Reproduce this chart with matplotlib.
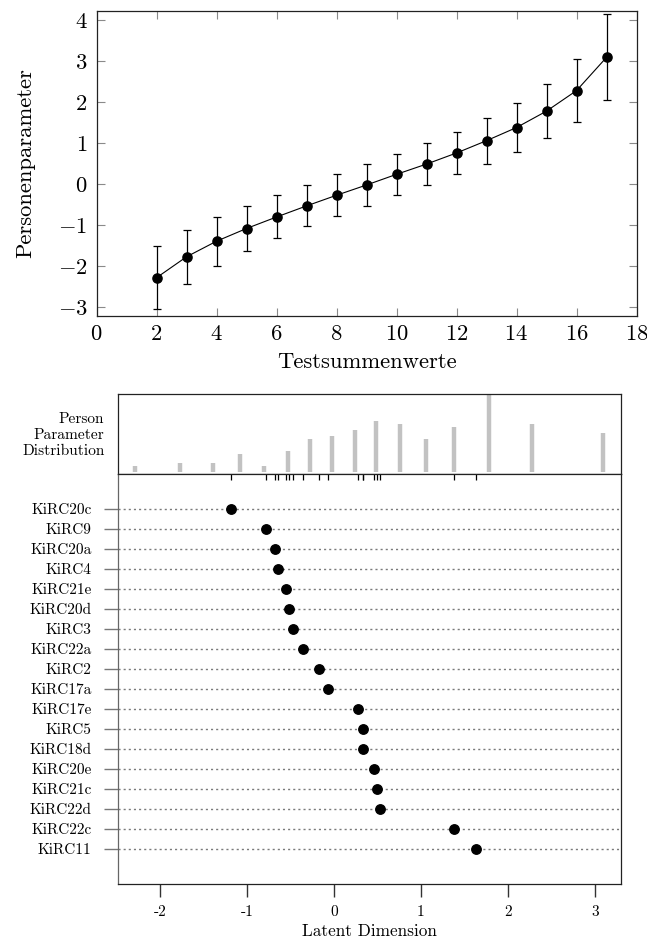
import matplotlib
matplotlib.use('Agg')
import matplotlib.pyplot as plt
import matplotlib.transforms as mtransforms
from matplotlib.ticker import FuncFormatter
import numpy as np

plt.rcParams['font.family'] = ['cmr10', 'DejaVu Serif']
plt.rcParams['mathtext.fontset'] = 'cm'
plt.rcParams['axes.unicode_minus'] = False

# ---------------- data: top chart ----------------
scores = [2, 3, 4, 5, 6, 7, 8, 9, 10, 11, 12, 13, 14, 15, 16, 17]
theta = [-2.28, -1.77, -1.39, -1.08, -0.80, -0.53, -0.27, -0.02, 0.24, 0.49,
         0.76, 1.06, 1.38, 1.78, 2.28, 3.09]
ci_low = [-3.03, -2.43, -1.99, -1.63, -1.32, -1.03, -0.77, -0.52, -0.27, -0.02,
          0.24, 0.50, 0.79, 1.12, 1.51, 2.05]
ci_high = [-1.50, -1.12, -0.81, -0.53, -0.27, -0.01, 0.24, 0.48, 0.73, 1.00,
           1.28, 1.61, 1.98, 2.44, 3.06, 4.14]

# ---------------- data: person-item map ----------------
items = ['KiRC20c', 'KiRC9', 'KiRC20a', 'KiRC4', 'KiRC21e', 'KiRC20d', 'KiRC3',
         'KiRC22a', 'KiRC2', 'KiRC17a', 'KiRC17e', 'KiRC5', 'KiRC18d', 'KiRC20e',
         'KiRC21c', 'KiRC22d', 'KiRC22c', 'KiRC11']
item_loc = [-1.18, -0.78, -0.68, -0.64, -0.55, -0.51, -0.47, -0.35, -0.17, -0.07,
            0.28, 0.34, 0.34, 0.465, 0.50, 0.53, 1.38, 1.63]
pp_counts = [2, 3, 3, 6, 2, 7, 11, 12, 14, 17, 16, 11, 15, 26, 16, 13]
latent_ticks = [-2, -1, 0, 1, 2, 3]

W, H = 647, 940
fig = plt.figure(figsize=(W / 100, H / 100), dpi=100)

def box(l, t, r, b):
    return [l / W, 1 - b / H, (r - l) / W, (b - t) / H]

# ---------------- top chart ----------------
ax1 = fig.add_axes(box(96.5, 11, 636.5, 315.5))
th = np.array(theta)
yerr = [th - np.array(ci_low), np.array(ci_high) - th]
ax1.errorbar(scores, theta, yerr=yerr, fmt='none', ecolor='black', elinewidth=0.9,
             capsize=3.0, capthick=0.9)
ax1.plot(scores, theta, '-', color='black', lw=0.8, marker='o', ms=6.6,
         markerfacecolor='black', markeredgecolor='black')
ax1.set_xlim(0, 18)
ax1.set_ylim(-3.2, 4.22)
ax1.set_xticks(range(0, 19, 2))
ax1.set_yticks(range(-3, 5))
fmt = FuncFormatter(lambda v, p: '$%d$' % int(round(v)))
ax1.xaxis.set_major_formatter(fmt)
ax1.yaxis.set_major_formatter(fmt)
ax1.tick_params(direction='in', length=6, width=0.8, color='#8a8a8a',
                top=True, right=True, labelsize=16.3, pad=6.5)
for s in ax1.spines.values():
    s.set_linewidth(0.9)
    s.set_color('#222222')
ax1.set_xlabel('Testsummenwerte', fontsize=16.3, labelpad=6)
ax1.set_ylabel('Personenparameter', fontsize=16.3, labelpad=16)

# ---------------- person parameter distribution ----------------
xl = (-2.48, 3.30)
ax2 = fig.add_axes(box(118, 394, 621, 474))
ax2.vlines(theta, 0, pp_counts, color='#c2c2c2', lw=3.2)
ax2.set_xlim(*xl)
ax2.set_ylim(-0.73, 26.1)
ax2.set_xticks([])
ax2.set_yticks([])
for s in ax2.spines.values():
    s.set_linewidth(0.9)
    s.set_color('#222222')
ax2.text(-0.027, 0.49, 'Person\nParameter\nDistribution', transform=ax2.transAxes,
         ha='right', va='center', multialignment='right', fontsize=11.1,
         linespacing=1.22)

# ---------------- item map ----------------
ax3 = fig.add_axes(box(118, 474, 621, 884))
n = len(items)
ypos = np.arange(n, 0, -1)
for y in ypos:
    ax3.axhline(y, color='#7a7a7a', lw=1.0, linestyle=(0, (1.5, 2.2)))
ax3.plot(item_loc, ypos, 'o', color='black', ms=6.8, zorder=3)
trans = mtransforms.blended_transform_factory(ax3.transData, ax3.transAxes)
ax3.vlines(item_loc, 1 - 5.5 / 410, 1, transform=trans, color='black', lw=0.9)
ax3.set_xlim(*xl)
ax3.set_ylim(-0.75, n + 1.75)
ax3.set_yticks(ypos)
ax3.set_yticklabels(items, fontsize=11)
ax3.set_xticks(latent_ticks)
ax3.set_xticklabels([str(v) for v in latent_ticks], fontsize=11)
ax3.tick_params(axis='y', direction='out', length=10, width=1.0, color='#777777', pad=9)
ax3.tick_params(axis='x', direction='out', length=9, width=1.0, color='#333333', pad=6)
for s in ax3.spines.values():
    s.set_linewidth(0.9)
    s.set_color('#222222')
ax3.spines['left'].set_color('#666666')
ax3.set_xlabel('Latent Dimension', fontsize=12.4, labelpad=4)

fig.savefig('out.png', dpi=100)
